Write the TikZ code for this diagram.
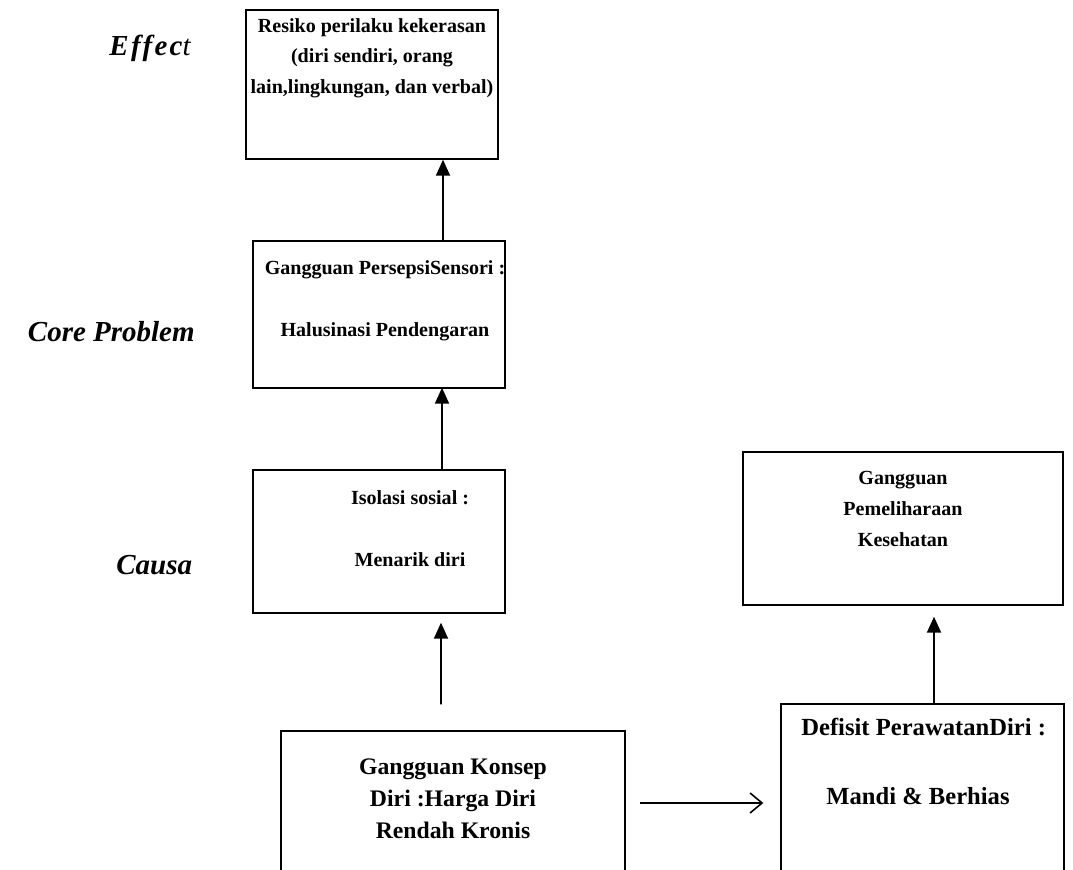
\documentclass[tikz,border=0pt]{standalone}
\usepackage{fontspec}
\setmainfont{Liberation Serif}
\usetikzlibrary{arrows.meta,calc,positioning}
\tikzset{
  box/.style       = {draw, line width=0.8pt, inner sep=0pt},
  boxtext/.style   = {font=\fontsize{11.4}{17.4}\selectfont\bfseries, align=center, inner sep=0pt},
  bigtext/.style   = {font=\fontsize{13.5}{18.2}\selectfont\bfseries, align=center, inner sep=0pt},
  level/.style     = {font=\fontsize{16.5}{20}\selectfont\bfseries\itshape, anchor=east, inner sep=0pt},
  uparrow/.style   = {-{Triangle[length=3.2mm,width=2.8mm]}, line width=1.1pt},
  sidearrow/.style = {-{Straight Barb[length=2.4mm,width=4mm]}, line width=0.9pt},
}

\begin{document}
\begin{tikzpicture}
  \clip (0,0) rectangle (21.46,17.38);

  % ---------------- levels ------------------------------------------------
  \node[level] (effect) at (3.82,16.42) {\addfontfeature{LetterSpace=8}Effec{\mdseries t}};
  \node[level] (core)   at (3.90,10.74) {Core Problem};
  \node[level] (causa)  at (3.85,6.08)  {Causa};

  % ---------------- boxes -------------------------------------------------
  \node[box,minimum width=5.04cm,minimum height=2.98cm] (resiko)  at (7.44,15.69) {};
  \node[box,minimum width=5.04cm,minimum height=2.94cm] (persepsi) at (7.58,11.09) {};
  \node[box,minimum width=5.04cm,minimum height=2.86cm] (isolasi)  at (7.58,6.55)  {};
  \node[box,minimum width=6.88cm,minimum height=3.20cm] (konsep)   at (9.06,1.16)  {};
  \node[box,minimum width=5.66cm,minimum height=3.60cm] (defisit)  at (18.45,1.50) {};
  \node[box,minimum width=6.40cm,minimum height=3.06cm] (pelihara) at (18.06,6.81) {};

  % ---------------- texts -------------------------------------------------
  \node[boxtext] (tresiko)   at (7.44,16.22) {Resiko perilaku kekerasan\\ (diri sendiri, orang\\ lain,lingkungan, dan verbal)};
  \node[boxtext] (tpersepsi) at (7.70,11.36) {Gangguan PersepsiSensori :\\[0.62cm] Halusinasi Pendengaran};
  \node[boxtext] (tisolasi)  at (8.20,6.81)  {Isolasi sosial :\\[0.62cm] Menarik diri};
  \node[bigtext] (tkonsep)   at (9.06,1.40)  {Gangguan Konsep\\ Diri :Harga Diri\\ Rendah Kronis};
  \node[bigtext,font=\fontsize{14}{17}\selectfont\bfseries,anchor=west] (tdefisit) at (16.02,2.84) {Defisit PerawatanDiri :};
  \node[bigtext,font=\fontsize{14}{17}\selectfont\bfseries] (tmandi) at (18.36,1.46) {Mandi \& Berhias};
  \node[boxtext] (tpelihara) at (18.06,7.20) {Gangguan\\ Pemeliharaan\\ Kesehatan};

  % ---------------- arrows ------------------------------------------------
  \draw[uparrow] ([xshift=1.28cm]persepsi.north) -- ([xshift=1.42cm]resiko.south);
  \draw[uparrow] ([xshift=1.26cm]isolasi.north) -- ([xshift=1.26cm,yshift=0.02cm]persepsi.south);
  \draw[uparrow,shorten <=0.52cm,shorten >=0.18cm]
       ([xshift=-0.24cm]konsep.north) -- ([xshift=1.24cm]isolasi.south);
  \draw[sidearrow,shorten <=0.28cm,shorten >=0.34cm]
       (konsep.east |- 0,1.32) -- (defisit.west |- 0,1.32);
  \draw[uparrow,shorten >=0.22cm] ([xshift=0.23cm]defisit.north) -- ([xshift=0.62cm]pelihara.south);
\end{tikzpicture}
\end{document}
